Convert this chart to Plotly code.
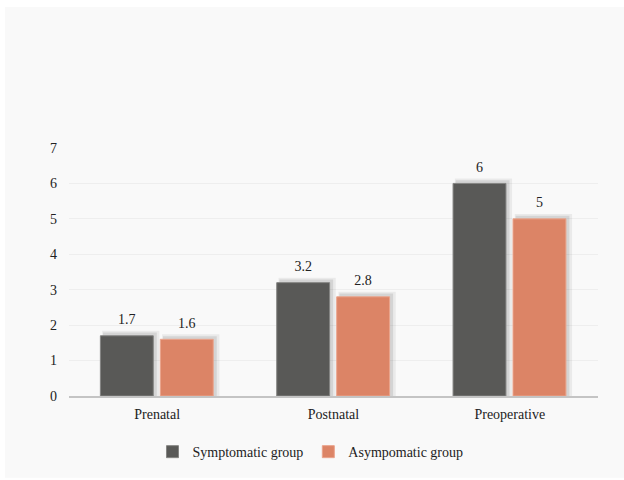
import plotly.graph_objects as go

categories = ["Prenatal", "Postnatal", "Preoperative"]
symptomatic = [1.7, 3.2, 6]
asymptomatic = [1.6, 2.8, 5]
series_names = ["Symptomatic group", "Asympomatic group"]
y_ticks = [0, 1, 2, 3, 4, 5, 6, 7]

DARK = "#595957"
ORANGE = "#dc8466"
FONT = "Liberation Serif, Times New Roman, serif"

fig = go.Figure()

series = [(symptomatic, series_names[0], DARK, "#858583", -0.322),
          (asymptomatic, series_names[1], ORANGE, "#eaa48c", 0.018)]

# soft shadows (derived from the same data)
for vals, name, col, edge, off in series:
    fig.add_trace(go.Bar(x=categories, y=[v + 0.14 for v in vals], offset=off + 0.01, width=0.325,
                         marker=dict(color="rgba(0,0,0,0.06)", line=dict(width=0)),
                         showlegend=False, hoverinfo="skip"))
    fig.add_trace(go.Bar(x=categories, y=[v + 0.09 for v in vals], offset=off + 0.015, width=0.305,
                         marker=dict(color="rgba(0,0,0,0.09)", line=dict(width=0)),
                         showlegend=False, hoverinfo="skip"))

for vals, name, col, edge, off in series:
    fig.add_trace(go.Bar(x=categories, y=vals, name=name, offset=off, width=0.30,
                         marker=dict(color=col, line=dict(color=edge, width=1)),
                         hovertemplate="%{x}: %{y}<extra>" + name + "</extra>"))

# value labels sit a little above the shadow
for vals, name, col, edge, off in series:
    fig.add_trace(go.Bar(x=categories, y=[v + 0.16 for v in vals], offset=off, width=0.30,
                         marker=dict(color="rgba(0,0,0,0)", line=dict(width=0)),
                         text=[f"{v:g}" for v in vals], textposition="outside",
                         textfont=dict(family=FONT, size=14, color="#222222"),
                         cliponaxis=False, showlegend=False, hoverinfo="skip"))

fig.add_shape(type="rect", xref="paper", yref="paper", x0=-0.121, x1=1.06, y0=-0.33, y1=1.569,
              fillcolor="#f9f9f9", line=dict(width=0), layer="below")

fig.update_layout(
    width=624, height=480,
    margin=dict(l=69, r=26, t=148, b=84),
    barmode="overlay",
    paper_bgcolor="white",
    plot_bgcolor="rgba(0,0,0,0)",
    font=dict(family=FONT, size=14, color="#222222"),
    showlegend=True,
    legend=dict(orientation="h", x=0.4565, xanchor="center", y=-0.226, yanchor="middle",
                font=dict(family=FONT, size=14, color="#222222"),
                bgcolor="rgba(0,0,0,0)", itemwidth=30, tracegroupgap=0),
    xaxis=dict(showgrid=False, showline=True, linecolor="#c4c4c4", linewidth=1.5,
               ticks="", ticklabelstandoff=4, tickfont=dict(family=FONT, size=14, color="#222222")),
    yaxis=dict(range=[0, 7], tickvals=y_ticks, showgrid=True, gridcolor="#eeeeee", gridwidth=1,
               zeroline=False, showline=False, ticks="", ticklabelstandoff=11,
               tickfont=dict(family=FONT, size=14, color="#222222")),
)

fig.write_html("out.html")
